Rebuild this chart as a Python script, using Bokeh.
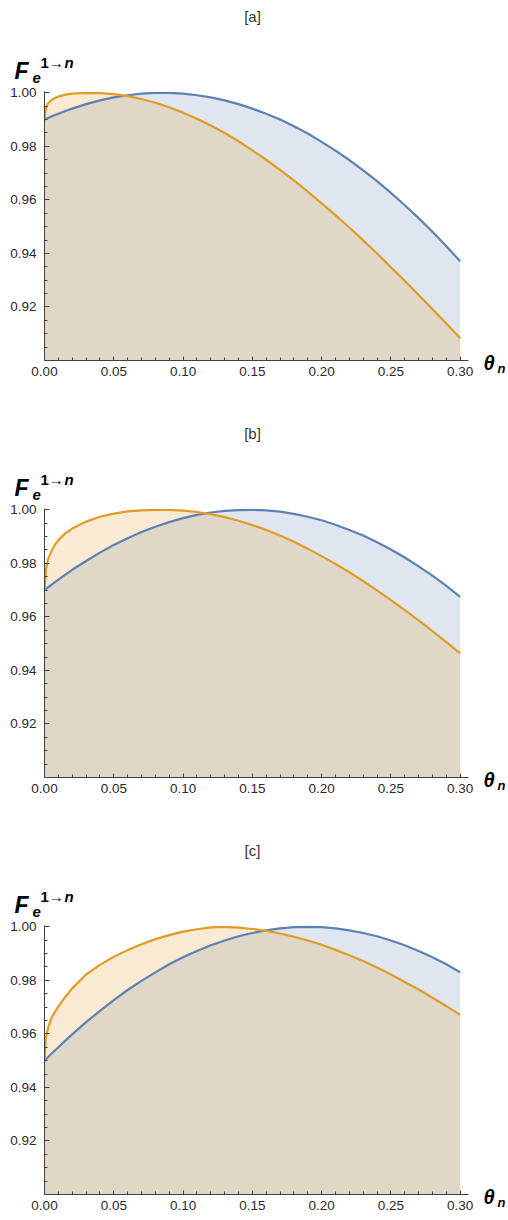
from bokeh.plotting import figure
from bokeh.models import Range1d, FixedTicker, PrintfTickFormatter, Label
from bokeh.layouts import column
from bokeh.embed import file_html
from bokeh.resources import INLINE

# ---------------- data ----------------
THETA = [0.0, 0.001, 0.0025, 0.005, 0.0075, 0.01, 0.015, 0.02,
         0.03, 0.04, 0.05, 0.06, 0.07, 0.08, 0.09, 0.10,
         0.11, 0.12, 0.13, 0.14, 0.15, 0.16, 0.17, 0.18, 0.19, 0.20,
         0.21, 0.22, 0.23, 0.24, 0.25, 0.26, 0.27, 0.28, 0.29, 0.30]

A_BLUE = [0.9900, 0.9902, 0.9906, 0.9912, 0.9917, 0.9922, 0.9932, 0.9941,
          0.9958, 0.9972, 0.9983, 0.9991, 0.9997, 1.0000, 1.0000, 0.9997,
          0.9991, 0.9983, 0.9972, 0.9958, 0.9941, 0.9922, 0.9900, 0.9875, 0.9848, 0.9817,
          0.9784, 0.9749, 0.9710, 0.9670, 0.9626, 0.9580, 0.9532, 0.9481, 0.9427, 0.9371]
A_ORANGE = [0.9900, 0.9942, 0.9960, 0.9973, 0.9981, 0.9986, 0.9993, 0.9997,
            1.0000, 0.9999, 0.9995, 0.9988, 0.9977, 0.9963, 0.9946, 0.9926,
            0.9903, 0.9878, 0.9850, 0.9819, 0.9785, 0.9750, 0.9712, 0.9673, 0.9631, 0.9587,
            0.9543, 0.9497, 0.9449, 0.9400, 0.9348, 0.9298, 0.9245, 0.9192, 0.9138, 0.9083]

B_BLUE = [0.9700, 0.9704, 0.9710, 0.9720, 0.9730, 0.9739, 0.9758, 0.9776,
          0.9809, 0.9840, 0.9869, 0.9894, 0.9917, 0.9937, 0.9954, 0.9969,
          0.9981, 0.9990, 0.9996, 0.9999, 1.0000, 0.9998, 0.9993, 0.9985, 0.9974, 0.9961,
          0.9944, 0.9925, 0.9904, 0.9879, 0.9852, 0.9822, 0.9789, 0.9754, 0.9716, 0.9675]
B_ORANGE = [0.9700, 0.9775, 0.9815, 0.9845, 0.9870, 0.9887, 0.9912, 0.9930,
            0.9956, 0.9974, 0.9986, 0.9994, 0.9998, 1.0000, 1.0000, 0.9997,
            0.9992, 0.9984, 0.9973, 0.9959, 0.9943, 0.9925, 0.9904, 0.9881, 0.9855, 0.9827,
            0.9798, 0.9767, 0.9734, 0.9699, 0.9663, 0.9625, 0.9587, 0.9547, 0.9506, 0.9464]

C_BLUE = [0.9500, 0.9505, 0.9513, 0.9526, 0.9538, 0.9550, 0.9575, 0.9598,
          0.9644, 0.9686, 0.9726, 0.9764, 0.9798, 0.9830, 0.9860, 0.9886,
          0.9910, 0.9931, 0.9949, 0.9965, 0.9977, 0.9987, 0.9994, 0.9999, 1.0000, 0.9999,
          0.9994, 0.9987, 0.9977, 0.9965, 0.9949, 0.9931, 0.9910, 0.9886, 0.9860, 0.9830]
C_ORANGE = [0.9500, 0.9585, 0.9622, 0.9660, 0.9682, 0.9702, 0.9738, 0.9770,
            0.9822, 0.9858, 0.9888, 0.9913, 0.9935, 0.9954, 0.9969, 0.9982,
            0.9991, 0.9998, 1.0000, 0.9997, 0.9992, 0.9985, 0.9975, 0.9963, 0.9949, 0.9933,
            0.9914, 0.9894, 0.9872, 0.9848, 0.9822, 0.9794, 0.9766, 0.9735, 0.9704, 0.9671]

PANEL_TAGS = ["[a]", "[b]", "[c]"]
X_TICKS = [0.00, 0.05, 0.10, 0.15, 0.20, 0.25, 0.30]
X_MINOR = [0.01, 0.02, 0.03, 0.04, 0.06, 0.07, 0.08, 0.09, 0.11, 0.12, 0.13, 0.14,
           0.16, 0.17, 0.18, 0.19, 0.21, 0.22, 0.23, 0.24, 0.26, 0.27, 0.28, 0.29]
Y_TICKS = [0.92, 0.94, 0.96, 0.98, 1.00]
Y_MINOR = [0.905, 0.91, 0.915, 0.925, 0.93, 0.935, 0.945, 0.95, 0.955,
           0.965, 0.97, 0.975, 0.985, 0.99, 0.995]
Y_MIN = 0.90

BLUE = "#5E81B5"
ORANGE = "#E19C24"
AXIS = "#404040"
FONT = "Liberation Sans"


def make_label(x, y, text, size, style="normal", align="left", color="black"):
    kw = dict(x=x, y=y, text=text, text_font=FONT, text_font_size=size,
              text_font_style=style, text_align=align, text_baseline="middle",
              text_color=color)
    try:
        return Label(x_units="canvas", y_units="canvas", **kw)
    except Exception:
        return Label(x_units="screen", y_units="screen", **kw)


def make_panel(tag, blue, orange, height, bottom):
    p = figure(width=508, height=height,
               x_range=Range1d(0.0, 0.306), y_range=Range1d(Y_MIN, 1.0005),
               output_backend="svg", toolbar_location=None,
               min_border_left=44, min_border_right=40,
               min_border_top=91, min_border_bottom=bottom)
    p.xgrid.visible = False
    p.ygrid.visible = False
    p.outline_line_color = None
    p.background_fill_color = "white"
    p.border_fill_color = "white"

    p.varea(x=THETA, y1=Y_MIN, y2=blue, fill_color=BLUE, fill_alpha=0.2)
    p.varea(x=THETA, y1=Y_MIN, y2=orange, fill_color=ORANGE, fill_alpha=0.2)
    p.line(THETA, blue, line_color=BLUE, line_width=2.2, line_join="round")
    p.line(THETA, orange, line_color=ORANGE, line_width=2.2, line_join="round")

    for ax, ticks, minor in ((p.xaxis[0], X_TICKS, X_MINOR), (p.yaxis[0], Y_TICKS, Y_MINOR)):
        ax.ticker = FixedTicker(ticks=ticks, minor_ticks=minor)
        ax.formatter = PrintfTickFormatter(format="%.2f")
        ax.axis_line_color = AXIS
        ax.axis_line_width = 1
        ax.major_tick_line_color = AXIS
        ax.minor_tick_line_color = AXIS
        ax.major_tick_out = 0
        ax.minor_tick_out = 0
        ax.major_label_text_font = FONT
        ax.major_label_text_font_size = "13.5px"
        ax.major_label_text_color = "#2a2a2a"
    p.xaxis.major_tick_in = 4
    p.xaxis.minor_tick_in = 3
    p.xaxis.major_label_standoff = 6
    p.yaxis.major_tick_in = 5
    p.yaxis.minor_tick_in = 3
    p.yaxis.major_label_standoff = 8

    # texts outside the frame live in side panels (centre annotations are clipped)
    p.add_layout(make_label(252, 16, tag, "15px", align="center", color="#333333"), "above")
    p.add_layout(make_label(14, 70, "F", "23px", "bold italic"), "above")
    p.add_layout(make_label(32, 77, "e", "15px", "bold italic"), "above")
    p.add_layout(make_label(40, 62, "1\u2192", "15px", "bold"), "above")
    p.add_layout(make_label(64, 62, "n", "15px", "bold italic"), "right")
    p.add_layout(make_label(483, 362, "\u03b8", "20px", "bold italic"), "right")
    p.add_layout(make_label(497, 368, "n", "13px", "bold italic"), "right")
    return p


pa = make_panel(PANEL_TAGS[0], A_BLUE, A_ORANGE, 417, 57)
pb = make_panel(PANEL_TAGS[1], B_BLUE, B_ORANGE, 417, 57)
pc = make_panel(PANEL_TAGS[2], C_BLUE, C_ORANGE, 386, 26)

layout = column(pa, pb, pc, spacing=0)
open("out.html", "w").write(file_html(layout, INLINE))
